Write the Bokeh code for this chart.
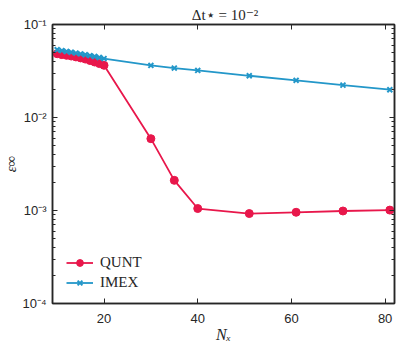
import numpy as np
from bokeh.plotting import figure
from bokeh.models import (LogAxis, LinearAxis, FixedTicker, Range1d, Legend, LegendItem,
                          ColumnDataSource)
from bokeh.embed import file_html
from bokeh.resources import INLINE

# ---- data ----
nx = [10, 11, 12, 13, 14, 15, 16, 17, 18, 19, 20, 30, 35, 40, 51, 61, 71, 81]
qunt = [0.0485, 0.0475, 0.0466, 0.0458, 0.0448, 0.0437, 0.0425, 0.0410, 0.0395, 0.0380, 0.0364,
        0.00592, 0.00211, 0.00105, 0.000927, 0.000957, 0.000988, 0.00101]
imex = [0.0535, 0.0524, 0.0513, 0.0503, 0.0493, 0.0483, 0.0473, 0.0463, 0.0453, 0.0442, 0.0430,
        0.0363, 0.0340, 0.0321, 0.0281, 0.0251, 0.0223, 0.0199]
x_ticks = [20, 40, 60, 80]
y_ticks = [1e-4, 1e-3, 1e-2, 1e-1]
y_tick_labels = ["10⁻⁴", "10⁻³", "10⁻²", "10⁻¹"]
series_names = ["QUNT", "IMEX"]
title_text = "Δt⋆ = 10⁻²"
x_label = "Nₓ"
y_label = "ε∞"

RED = "#E8174B"
BLUE = "#2397C9"
AX = "#262626"

y_minor = [m * 10.0 ** e for e in (-4, -3, -2) for m in range(2, 10)]

p = figure(width=399, height=346, output_backend="svg", toolbar_location=None,
           y_axis_type="log", x_range=Range1d(9, 82), y_range=Range1d(1e-4, 1e-1),
           min_border_left=52, min_border_top=24, min_border_right=5, min_border_bottom=43)
p.background_fill_color = "white"
p.border_fill_color = "white"
p.outline_line_color = AX
p.outline_line_width = 1.5
p.grid.visible = False

p.title.text = title_text
p.title.align = "center"
p.title.text_font = "Liberation Serif"
p.title.text_font_size = "15px"
p.title.text_font_style = "normal"
p.title.text_color = AX
p.title.standoff = 4

def style_axis(ax, ticks, labels=True):
    ax.axis_line_color = AX
    ax.axis_line_width = 1.5
    ax.major_tick_in = 5
    ax.major_tick_out = 0
    ax.minor_tick_in = 3
    ax.minor_tick_out = 0
    ax.major_tick_line_color = AX
    ax.minor_tick_line_color = AX
    ax.major_label_text_font = "Liberation Sans"
    ax.major_label_text_font_size = "13px"
    ax.major_label_text_color = AX
    if not labels:
        ax.major_label_overrides = {t: "" for t in ticks}
        ax.major_label_text_font_size = "0px"
        ax.major_label_standoff = 0

# bottom x axis
xa = p.xaxis[0]
xa.ticker = FixedTicker(ticks=x_ticks)
style_axis(xa, x_ticks)
xa.minor_tick_line_color = None
xa.major_label_standoff = 10
xa.axis_label = x_label
xa.axis_label_text_font = "Liberation Serif"
xa.axis_label_text_font_style = "italic"
xa.axis_label_text_font_size = "16px"
xa.axis_label_text_color = AX
xa.axis_label_standoff = 0

# left y axis
ya = p.yaxis[0]
ya.ticker = FixedTicker(ticks=y_ticks, minor_ticks=y_minor)
style_axis(ya, y_ticks)
ya.major_label_overrides = {t: l for t, l in zip(y_ticks, y_tick_labels)}
ya.major_label_standoff = 6
ya.major_label_orientation = "horizontal"
ya.axis_label = y_label
ya.axis_label_text_font = "Liberation Serif"
ya.axis_label_text_font_style = "italic"
ya.axis_label_text_font_size = "15px"
ya.axis_label_text_color = AX
ya.axis_label_standoff = 0

# top and right axes (ticks only)
top = LinearAxis(ticker=FixedTicker(ticks=x_ticks))
style_axis(top, x_ticks, labels=False)
top.minor_tick_line_color = None
p.add_layout(top, "above")

right = LogAxis(ticker=FixedTicker(ticks=y_ticks, minor_ticks=y_minor))
style_axis(right, y_ticks, labels=False)
p.add_layout(right, "right")

src = ColumnDataSource(dict(nx=nx, qunt=qunt, imex=imex))
l1 = p.line("nx", "qunt", source=src, color=RED, line_width=1.8)
m1 = p.scatter("nx", "qunt", source=src, marker="circle", size=8, color=RED)
l2 = p.line("nx", "imex", source=src, color=BLUE, line_width=1.8)
m2 = p.scatter("nx", "imex", source=src, marker="x", size=7, line_color=BLUE, line_width=2)

legend = Legend(items=[LegendItem(label=series_names[0], renderers=[l1, m1]),
                       LegendItem(label=series_names[1], renderers=[l2, m2])],
                location=(14, 12), padding=0, margin=0, spacing=3,
                glyph_width=27, glyph_height=17, label_height=17, label_standoff=7,
                border_line_color=None, background_fill_alpha=0,
                label_text_font="Liberation Serif", label_text_font_size="15px",
                label_text_color=AX)
p.add_layout(legend, "center")

open("out.html", "w").write(file_html(p, INLINE))
